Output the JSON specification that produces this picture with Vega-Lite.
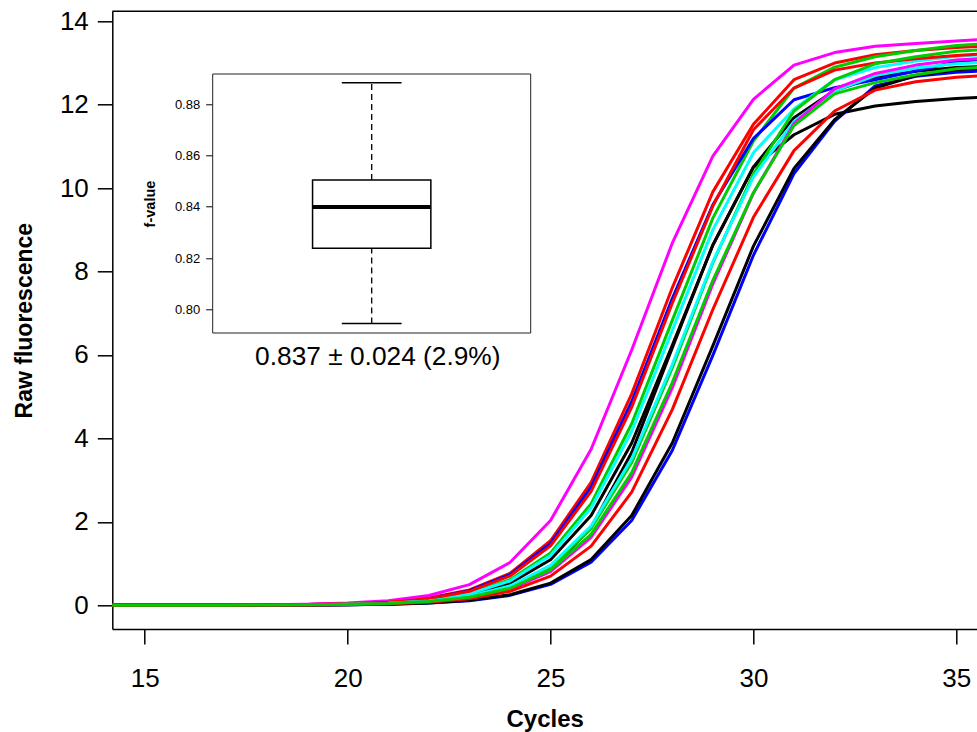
{
  "$schema": "https://vega.github.io/schema/vega-lite/v6.json",
  "width": 864.7,
  "height": 617.7,
  "autosize": {"type": "none"},
  "padding": {"left": 112.3, "top": 11.3, "right": 0, "bottom": 103},
  "background": "white",
  "config": {
    "view": {"stroke": null},
    "font": "Liberation Sans",
    "axis": {
      "labelFont": "Liberation Sans",
      "titleFont": "Liberation Sans",
      "labelColor": "black",
      "titleColor": "black",
      "domainColor": "black",
      "tickColor": "black",
      "grid": false
    }
  },
  "datasets": {
    "curves": [
      {"cycle":14,"S01":0.0003,"S02":0.0004,"S03":0.0003,"S04":0.0004,"S05":0.0003,"S06":0.0005,"S07":0.0001,"S08":0.0003,"S09":0.0002,"S10":0.0001,"S11":0.0002,"S12":0.0002,"S13":0.0001,"S14":0.0002,"S15":0.0002},
      {"cycle":15,"S01":0.0005,"S02":0.0008,"S03":0.0006,"S04":0.0008,"S05":0.0006,"S06":0.0011,"S07":0.0002,"S08":0.0007,"S09":0.0005,"S10":0.0002,"S11":0.0005,"S12":0.0004,"S13":0.0003,"S14":0.0003,"S15":0.0004},
      {"cycle":16,"S01":0.0012,"S02":0.0017,"S03":0.0014,"S04":0.0016,"S05":0.0013,"S06":0.0024,"S07":0.0004,"S08":0.0016,"S09":0.001,"S10":0.0005,"S11":0.001,"S12":0.0008,"S13":0.0005,"S14":0.0007,"S15":0.0009},
      {"cycle":17,"S01":0.0025,"S02":0.0037,"S03":0.0029,"S04":0.0036,"S05":0.0028,"S06":0.0051,"S07":0.0009,"S08":0.0034,"S09":0.0021,"S10":0.0011,"S11":0.0022,"S12":0.0018,"S13":0.0012,"S14":0.0016,"S15":0.0019},
      {"cycle":18,"S01":0.0055,"S02":0.008,"S03":0.0063,"S04":0.0077,"S05":0.006,"S06":0.011,"S07":0.0021,"S08":0.0073,"S09":0.0045,"S10":0.0024,"S11":0.0047,"S12":0.0039,"S13":0.0025,"S14":0.0034,"S15":0.0042},
      {"cycle":19,"S01":0.0118,"S02":0.0173,"S03":0.0137,"S04":0.0166,"S05":0.013,"S06":0.0237,"S07":0.005,"S08":0.0158,"S09":0.0098,"S10":0.0051,"S11":0.0102,"S12":0.0085,"S13":0.0055,"S14":0.0073,"S15":0.009},
      {"cycle":20,"S01":0.0255,"S02":0.0372,"S03":0.0295,"S04":0.0357,"S05":0.028,"S06":0.051,"S07":0.0119,"S08":0.034,"S09":0.0211,"S10":0.0111,"S11":0.022,"S12":0.0184,"S13":0.0118,"S14":0.0158,"S15":0.0194},
      {"cycle":21,"S01":0.0548,"S02":0.08,"S03":0.0633,"S04":0.077,"S05":0.06,"S06":0.109,"S07":0.0283,"S08":0.073,"S09":0.0455,"S10":0.0239,"S11":0.0474,"S12":0.0396,"S13":0.0255,"S14":0.034,"S15":0.0418},
      {"cycle":22,"S01":0.118,"S02":0.172,"S03":0.136,"S04":0.164,"S05":0.129,"S06":0.234,"S07":0.0674,"S08":0.157,"S09":0.0976,"S10":0.0514,"S11":0.102,"S12":0.0851,"S13":0.0549,"S14":0.0731,"S15":0.0897},
      {"cycle":23,"S01":0.251,"S02":0.365,"S03":0.29,"S04":0.35,"S05":0.276,"S06":0.495,"S07":0.16,"S08":0.334,"S09":0.209,"S10":0.11,"S11":0.218,"S12":0.182,"S13":0.118,"S14":0.157,"S15":0.192},
      {"cycle":24,"S01":0.53,"S02":0.763,"S03":0.61,"S04":0.732,"S05":0.58,"S06":1.024,"S07":0.373,"S08":0.7,"S09":0.443,"S10":0.236,"S11":0.461,"S12":0.386,"S13":0.252,"S14":0.333,"S15":0.407},
      {"cycle":25,"S01":1.092,"S02":1.546,"S03":1.251,"S04":1.483,"S05":1.193,"S06":2.03,"S07":0.855,"S08":1.423,"S09":0.92,"S10":0.499,"S11":0.955,"S12":0.807,"S13":0.531,"S14":0.698,"S15":0.848},
      {"cycle":26,"S01":2.15,"S02":2.944,"S03":2.437,"S04":2.83,"S05":2.33,"S06":3.74,"S07":1.86,"S08":2.73,"S09":1.838,"S10":1.03,"S11":1.9,"S12":1.625,"S13":1.094,"S14":1.417,"S15":1.7},
      {"cycle":27,"S01":3.89,"S02":5.07,"S03":4.35,"S04":4.88,"S05":4.17,"S06":6.12,"S07":3.66,"S08":4.75,"S09":3.42,"S10":2.03,"S11":3.51,"S12":3.07,"S13":2.15,"S14":2.71,"S15":3.18},
      {"cycle":28,"S01":6.23,"S02":7.61,"S03":6.83,"S04":7.35,"S05":6.59,"S06":8.68,"S07":6.17,"S08":7.24,"S09":5.69,"S10":3.71,"S11":5.77,"S12":5.21,"S13":3.89,"S14":4.69,"S15":5.34},
      {"cycle":29,"S01":8.63,"S02":9.91,"S03":9.28,"S04":9.6,"S05":9.0,"S06":10.77,"S07":8.64,"S08":9.57,"S09":8.21,"S10":5.99,"S11":8.24,"S12":7.7,"S13":6.22,"S14":7.09,"S15":7.79},
      {"cycle":30,"S01":10.51,"S02":11.53,"S03":11.13,"S04":11.19,"S05":10.85,"S06":12.13,"S07":10.5,"S08":11.4,"S09":10.34,"S10":8.39,"S11":10.27,"S12":9.88,"S13":8.61,"S14":9.3,"S15":9.89},
      {"cycle":31,"S01":11.69,"S02":12.6,"S03":12.4,"S04":12.12,"S05":11.9,"S06":12.95,"S07":11.28,"S08":12.4,"S09":11.85,"S10":10.35,"S11":11.6,"S12":11.55,"S13":10.47,"S14":10.9,"S15":11.5},
      {"cycle":32,"S01":12.34,"S02":13.0,"S03":12.9,"S04":12.41,"S05":12.6,"S06":13.25,"S07":11.77,"S08":12.83,"S09":12.6,"S10":11.6,"S11":12.33,"S12":12.38,"S13":11.64,"S14":11.85,"S15":12.26},
      {"cycle":33,"S01":12.66,"S02":13.2,"S03":13.15,"S04":12.6,"S05":12.89,"S06":13.4,"S07":11.97,"S08":13.0,"S09":12.98,"S10":12.45,"S11":12.7,"S12":12.75,"S13":12.4,"S14":12.35,"S15":12.53},
      {"cycle":34,"S01":12.8,"S02":13.3,"S03":13.3,"S04":12.81,"S05":13.05,"S06":13.47,"S07":12.08,"S08":13.1,"S09":13.15,"S10":12.68,"S11":12.88,"S12":12.95,"S13":12.7,"S14":12.55,"S15":12.72},
      {"cycle":35,"S01":12.89,"S02":13.37,"S03":13.42,"S04":13.03,"S05":13.16,"S06":13.53,"S07":12.15,"S08":13.18,"S09":13.28,"S10":12.78,"S11":12.98,"S12":13.07,"S13":12.84,"S14":12.66,"S15":12.86},
      {"cycle":36,"S01":12.93,"S02":13.42,"S03":13.48,"S04":13.13,"S05":13.22,"S06":13.58,"S07":12.19,"S08":13.24,"S09":13.34,"S10":12.83,"S11":13.03,"S12":13.13,"S13":12.9,"S14":12.72,"S15":12.92}
    ],
    "fvalues": [
      {"lower": 0.7945, "q1": 0.8238, "median": 0.8399, "q3": 0.8504, "upper": 0.8883}
    ]
  },
  "layer": [
    {
      "layer": [
        {
          "data": {"name": "curves"},
          "transform": [
            {"fold": ["S01","S02","S03","S04","S05","S06","S07","S08","S09","S10","S11","S12","S13","S14","S15"], "as": ["sample", "fluorescence"]}
          ],
          "mark": {"type": "line", "clip": true, "strokeWidth": 3, "strokeJoin": "round"},
          "encoding": {
            "x": {
              "field": "cycle", "type": "quantitative",
              "scale": {"domain": [14.2, 35.51], "nice": false, "zero": false},
              "axis": {
                "orient": "bottom",
                "title": "Cycles",
                "values": [15, 20, 25, 30, 35],
                "format": "d",
                "tickSize": 15, "tickWidth": 1.5, "domainWidth": 1.5,
                "labelFontSize": 26, "labelPadding": 21,
                "labelFlush": false, "labelOverlap": false,
                "titleFontSize": 24, "titleFontWeight": "bold", "titlePadding": 16
              }
            },
            "y": {
              "field": "fluorescence", "type": "quantitative",
              "scale": {"domain": [-0.57, 14.24], "nice": false, "zero": false},
              "axis": {
                "orient": "left",
                "title": "Raw fluorescence",
                "values": [0, 2, 4, 6, 8, 10, 12, 14],
                "format": "d",
                "tickSize": 15, "tickWidth": 1.5, "domainWidth": 1.5,
                "labelFontSize": 26, "labelPadding": 9,
                "labelFlush": false, "labelOverlap": false,
                "titleFontSize": 23, "titleFontWeight": "bold", "titlePadding": 23
              }
            },
            "color": {
              "field": "sample", "type": "nominal",
              "scale": {
                "domain": ["S01","S02","S03","S04","S05","S06","S07","S08","S09","S10","S11","S12","S13","S14","S15"],
                "range": ["#000000","#FF0000","#00CD00","#0000FF","#00FFFF","#FF00FF","#000000","#FF0000","#00CD00","#0000FF","#00FFFF","#FF00FF","#000000","#FF0000","#00CD00"]
              },
              "legend": null
            }
          }
        },
        {
          "data": {"values": [{}]},
          "mark": {"type": "rule", "color": "black", "strokeWidth": 1.5},
          "encoding": {"y": {"datum": 14.24, "type": "quantitative"}}
        }
      ]
    },
    {
      "data": {"name": "fvalues"},
      "layer": [
        {
          "mark": {"type": "rect", "fill": "white", "stroke": "#222222", "strokeWidth": 1},
          "encoding": {
            "x": {
              "datum": 0, "type": "quantitative",
              "scale": {"domain": [0, 1], "range": [100.4, 418.4], "nice": false, "zero": false},
              "axis": {
                "orient": "bottom", "offset": -296,
                "domain": false, "ticks": false, "labels": false,
                "title": "0.837 ± 0.024 (2.9%)",
                "titleX": 265,
                "titleFontSize": 26.3, "titleFontWeight": "normal", "titlePadding": 10
              }
            },
            "x2": {"datum": 1},
            "y": {
              "datum": 0.7908, "type": "quantitative",
              "scale": {"domain": [0.7908, 0.8917], "range": [321.7, 62.7], "nice": false, "zero": false},
              "axis": {
                "orient": "left", "offset": -100.4,
                "title": "f-value",
                "values": [0.8, 0.82, 0.84, 0.86, 0.88],
                "format": ".2f",
                "domain": false,
                "tickSize": 7, "tickWidth": 1,
                "labelFontSize": 13, "labelPadding": 6,
                "labelFlush": false, "labelOverlap": false,
                "titleFontSize": 14.5, "titleFontWeight": "bold", "titlePadding": 17
              }
            },
            "y2": {"datum": 0.8917}
          }
        },
        {
          "mark": {"type": "rule", "color": "black", "strokeWidth": 1.3, "strokeDash": [6, 4]},
          "encoding": {
            "x": {"datum": 0.5, "type": "quantitative"},
            "y": {"field": "q3", "type": "quantitative"},
            "y2": {"field": "upper"}
          }
        },
        {
          "mark": {"type": "rule", "color": "black", "strokeWidth": 1.3, "strokeDash": [6, 4]},
          "encoding": {
            "x": {"datum": 0.5, "type": "quantitative"},
            "y": {"field": "lower", "type": "quantitative"},
            "y2": {"field": "q1"}
          }
        },
        {
          "mark": {"type": "rule", "color": "black", "strokeWidth": 1.5},
          "encoding": {
            "x": {"datum": 0.406, "type": "quantitative"},
            "x2": {"datum": 0.594},
            "y": {"field": "upper", "type": "quantitative"}
          }
        },
        {
          "mark": {"type": "rule", "color": "black", "strokeWidth": 1.5},
          "encoding": {
            "x": {"datum": 0.406, "type": "quantitative"},
            "x2": {"datum": 0.594},
            "y": {"field": "lower", "type": "quantitative"}
          }
        },
        {
          "mark": {"type": "rect", "fill": "white", "stroke": "black", "strokeWidth": 1.5},
          "encoding": {
            "x": {"datum": 0.314, "type": "quantitative"},
            "x2": {"datum": 0.686},
            "y": {"field": "q1", "type": "quantitative"},
            "y2": {"field": "q3"}
          }
        },
        {
          "mark": {"type": "rule", "color": "black", "strokeWidth": 4},
          "encoding": {
            "x": {"datum": 0.314, "type": "quantitative"},
            "x2": {"datum": 0.686},
            "y": {"field": "median", "type": "quantitative"}
          }
        }
      ]
    }
  ],
  "resolve": {
    "scale": {"x": "independent", "y": "independent"},
    "axis": {"x": "independent", "y": "independent"}
  }
}
